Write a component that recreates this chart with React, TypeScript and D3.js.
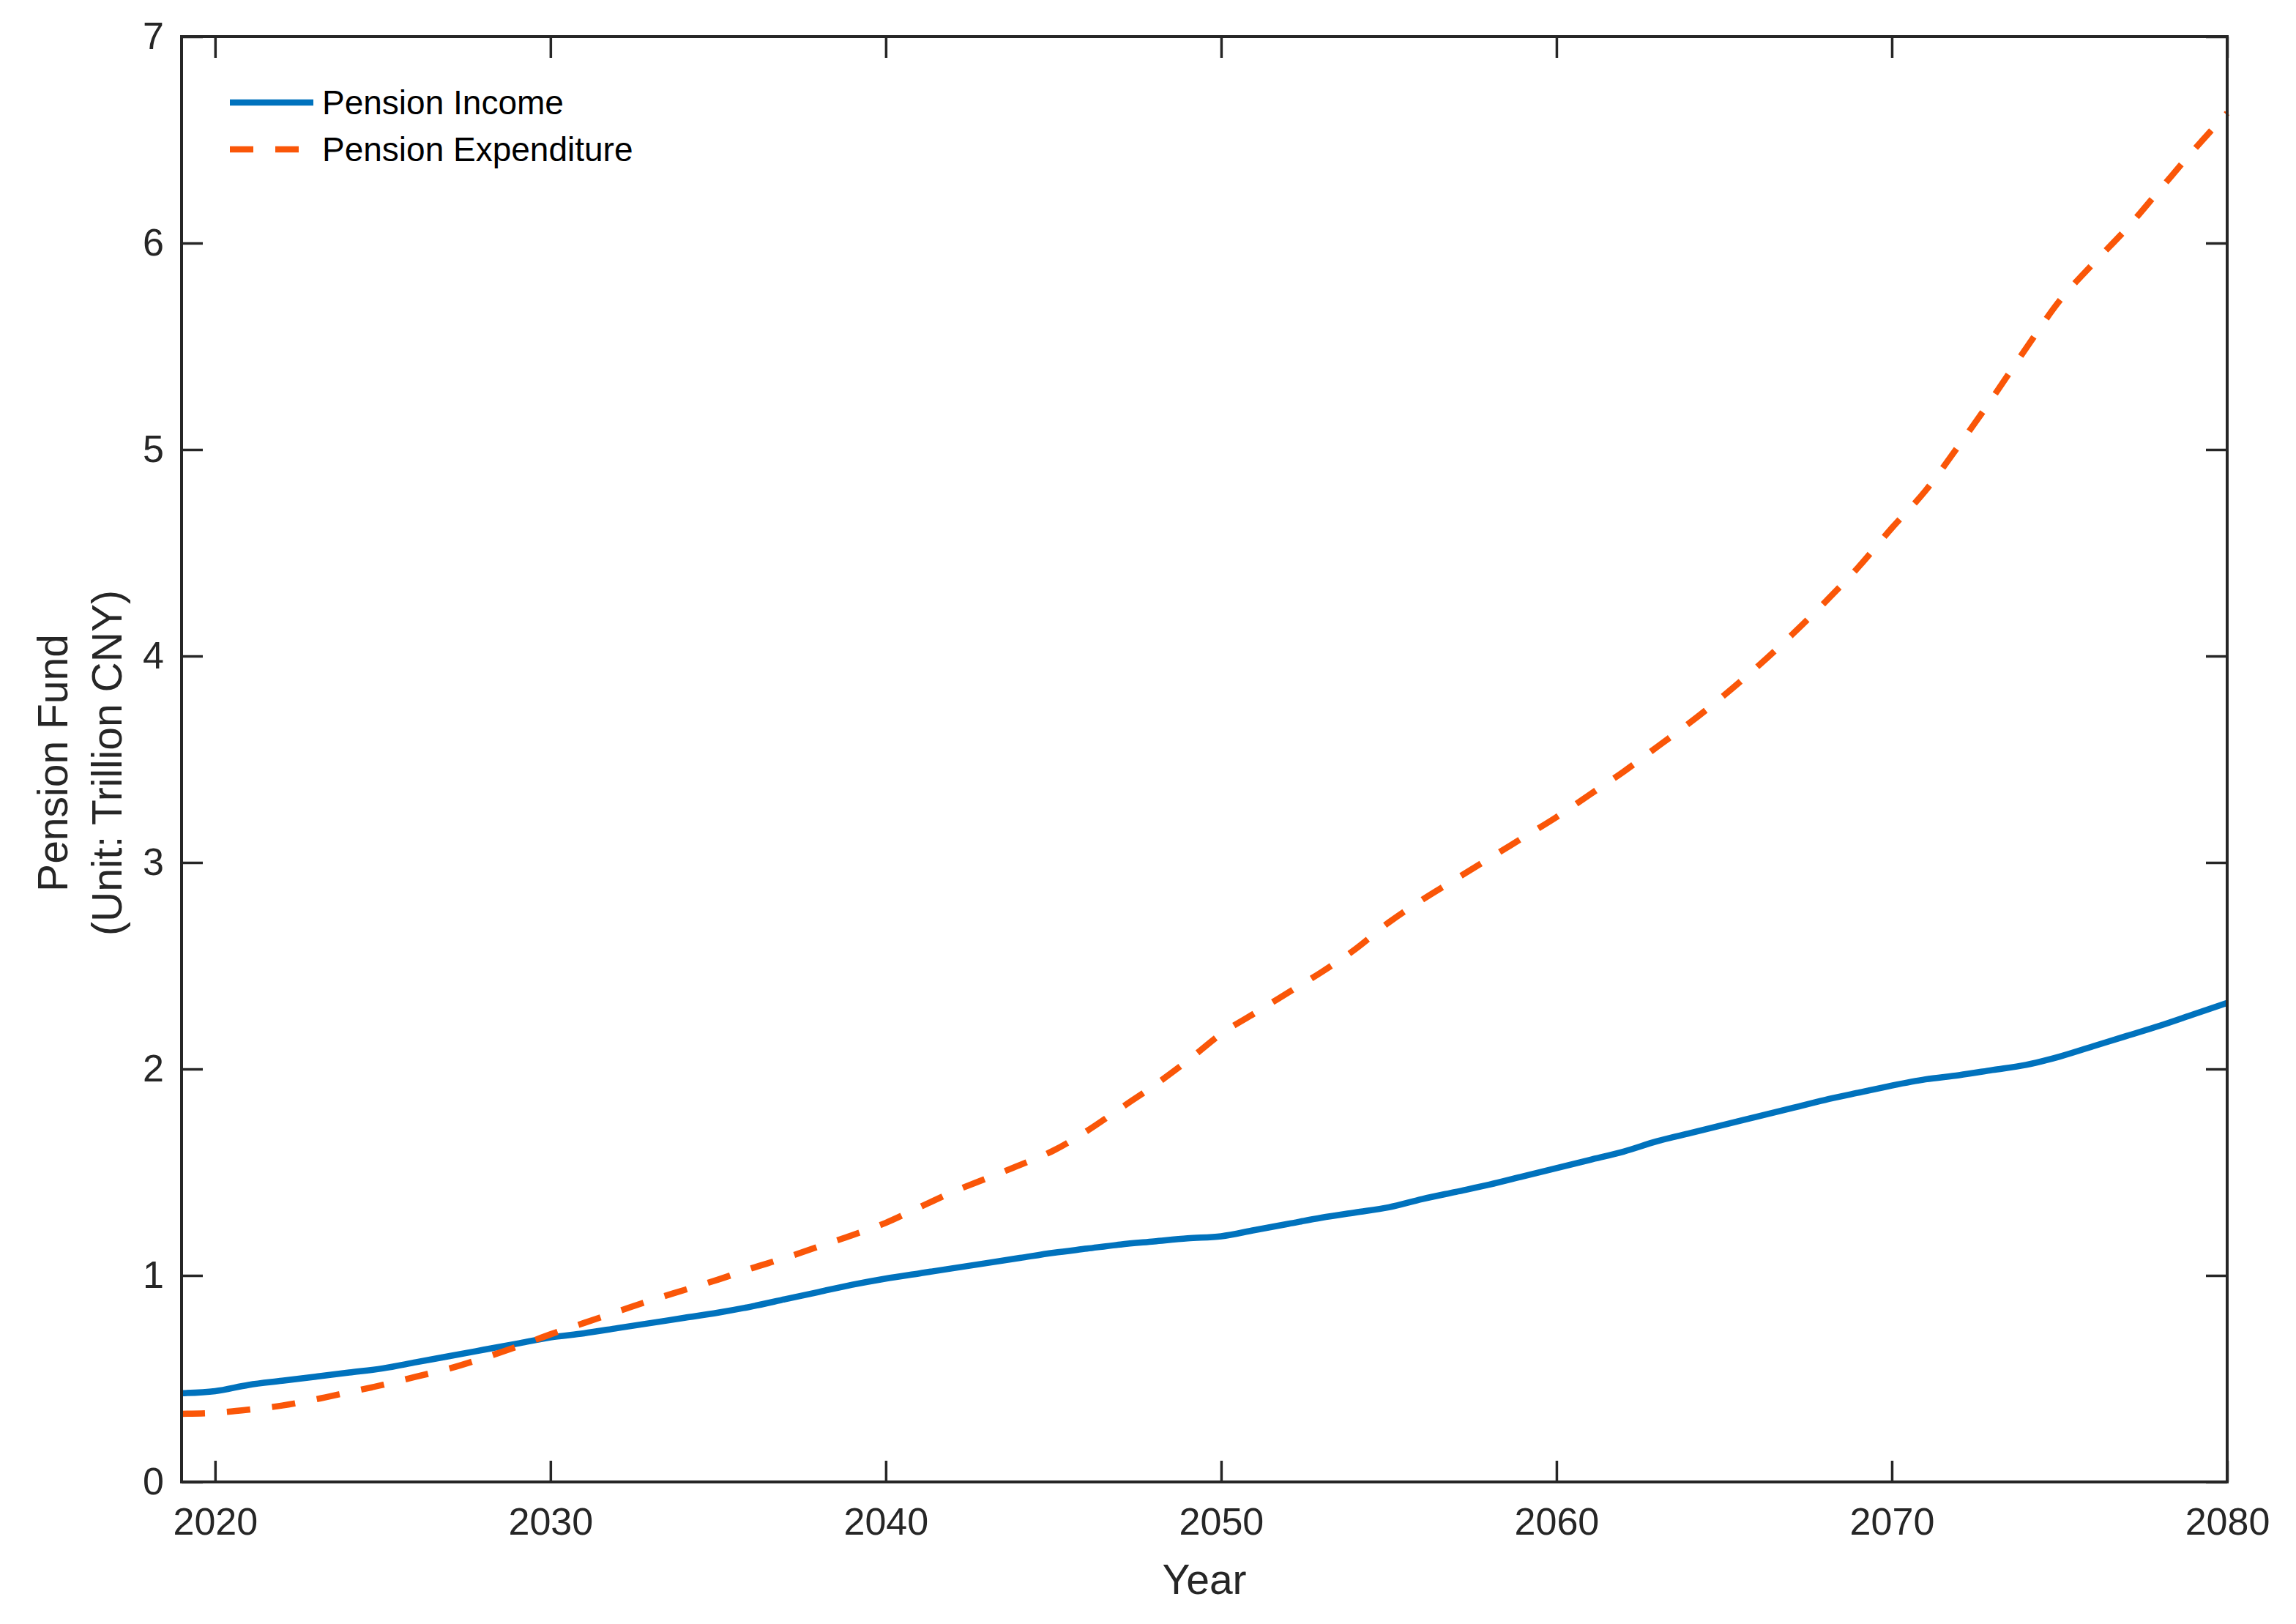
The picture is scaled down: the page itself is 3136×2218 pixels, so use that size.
import React, { useEffect, useRef } from 'react';
import * as d3 from 'd3';

const years = d3.range(2019, 2081);

const pensionIncome = [
  0.43, 0.44, 0.47, 0.49, 0.51, 0.53, 0.55, 0.58, 0.61, 0.64,
  0.67, 0.70, 0.72, 0.745, 0.77, 0.795, 0.82, 0.85, 0.885, 0.92,
  0.955, 0.985, 1.01, 1.035, 1.06, 1.085, 1.11, 1.13, 1.15, 1.165,
  1.18, 1.19, 1.22, 1.25, 1.28, 1.305, 1.33, 1.37, 1.405, 1.44,
  1.48, 1.52, 1.56, 1.60, 1.65, 1.69, 1.73, 1.77, 1.81, 1.85,
  1.885, 1.92, 1.95, 1.97, 1.995, 2.02, 2.06, 2.11, 2.16, 2.21,
  2.265, 2.32,
];

const pensionExpenditure = [
  0.33, 0.335, 0.35, 0.37, 0.40, 0.435, 0.47, 0.51, 0.55, 0.60,
  0.655, 0.715, 0.77, 0.825, 0.88, 0.93, 0.98, 1.035, 1.085, 1.14,
  1.195, 1.255, 1.33, 1.405, 1.47, 1.535, 1.605, 1.70, 1.81, 1.92,
  2.04, 2.17, 2.27, 2.37, 2.47, 2.58, 2.71, 2.82, 2.92, 3.02,
  3.12, 3.22, 3.33, 3.44, 3.56, 3.68, 3.81, 3.95, 4.10, 4.26,
  4.43, 4.62, 4.80, 5.02, 5.25, 5.49, 5.72, 5.90, 6.07, 6.26,
  6.45, 6.63,
];

const xTicks = [2020, 2030, 2040, 2050, 2060, 2070, 2080];
const yTicks = [0, 1, 2, 3, 4, 5, 6, 7];

const seriesNames = ['Pension Income', 'Pension Expenditure'];
const seriesColors = ['#0072BD', '#FA5608'];

const W = 3136;
const H = 2218;
const FONT = '"Liberation Sans", Arial, Helvetica, sans-serif';
const AXIS = '#262626';

const App = () => {
  const svgRef = useRef(null);

  useEffect(() => {
    const svg = d3.select(svgRef.current);
    svg.selectAll('*').remove();

    const left = 248, right = 3042, top = 50, bottom = 2024;
    const tick = 29;

    const x = d3.scaleLinear().domain([2019, 2080]).range([left, right]);
    const y = d3.scaleLinear().domain([0, 7]).range([bottom, top]);

    svg.append('rect').attr('width', W).attr('height', H).attr('fill', '#fff');

    // lines
    const line = d3.line<number>()
      .x((_, i) => x(years[i]))
      .y(d => y(d))
      .curve(d3.curveMonotoneX);

    const series = [pensionIncome, pensionExpenditure];
    series.forEach((vals, i) => {
      svg.append('path')
        .datum(vals)
        .attr('d', line)
        .attr('fill', 'none')
        .attr('stroke', seriesColors[i])
        .attr('stroke-width', 8.5)
        .attr('stroke-dasharray', i === 1 ? '32 30' : null)
        .attr('stroke-linejoin', 'round');
    });

    // axes with inward ticks
    const styleAxis = (g, withText) => {
      g.select('.domain').remove();
      g.selectAll('line').attr('stroke', AXIS).attr('stroke-width', 3.5);
      g.selectAll('text')
        .attr('fill', AXIS)
        .style('font-family', FONT)
        .style('font-size', '52px');
      if (!withText) g.selectAll('text').remove();
    };

    svg.append('g')
      .attr('transform', `translate(0,${bottom})`)
      .call(d3.axisBottom(x).tickValues(xTicks).tickSize(-tick).tickPadding(35).tickFormat(d3.format('d')))
      .call(g => styleAxis(g, true));

    svg.append('g')
      .attr('transform', `translate(0,${top})`)
      .call(d3.axisTop(x).tickValues(xTicks).tickSize(-tick))
      .call(g => styleAxis(g, false));

    svg.append('g')
      .attr('transform', `translate(${left},0)`)
      .call(d3.axisLeft(y).tickValues(yTicks).tickSize(-tick).tickPadding(24).tickFormat(d3.format('d')))
      .call(g => styleAxis(g, true));

    svg.append('g')
      .attr('transform', `translate(${right},0)`)
      .call(d3.axisRight(y).tickValues(yTicks).tickSize(-tick))
      .call(g => styleAxis(g, false));

    // frame
    svg.append('rect')
      .attr('x', left).attr('y', top)
      .attr('width', right - left).attr('height', bottom - top)
      .attr('fill', 'none')
      .attr('stroke', AXIS)
      .attr('stroke-width', 4);

    // axis labels
    svg.append('text')
      .attr('x', (left + right) / 2)
      .attr('y', 2177)
      .attr('text-anchor', 'middle')
      .attr('fill', AXIS)
      .style('font-family', FONT)
      .style('font-size', '57px')
      .text('Year');

    const yLab = svg.append('text')
      .attr('transform', `translate(0,${(top + bottom) / 2 + 5}) rotate(-90)`)
      .attr('text-anchor', 'middle')
      .attr('fill', AXIS)
      .style('font-family', FONT)
      .style('font-size', '57px');
    yLab.append('tspan').attr('x', 0).attr('y', 92).text('Pension Fund');
    yLab.append('tspan').attr('x', 0).attr('y', 166).text('(Unit: Trillion CNY)');

    // legend
    seriesNames.forEach((name, i) => {
      const ly = 140 + i * 64;
      svg.append('line')
        .attr('x1', 314).attr('x2', 428)
        .attr('y1', ly).attr('y2', ly)
        .attr('stroke', seriesColors[i])
        .attr('stroke-width', 8.5)
        .attr('stroke-dasharray', i === 1 ? '32 30' : null);
      svg.append('text')
        .attr('x', 440)
        .attr('y', ly)
        .attr('dy', '0.35em')
        .attr('fill', '#000')
        .style('font-family', FONT)
        .style('font-size', '46px')
        .text(name);
    });
  }, []);

  return (
    <svg
      ref={svgRef}
      width={W}
      height={H}
      style={{ position: 'absolute', left: 0, top: 0, display: 'block' }}
    />
  );
};

export default App;
